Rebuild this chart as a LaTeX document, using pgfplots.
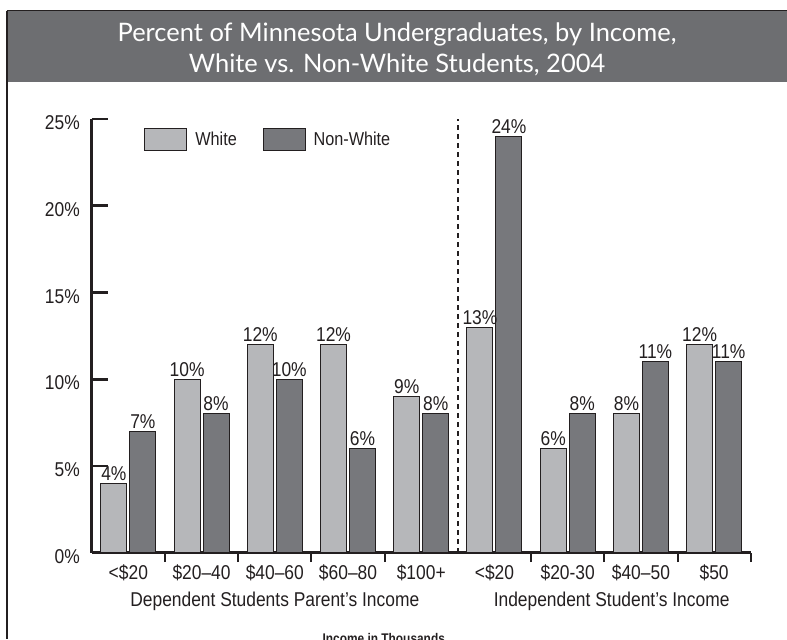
\documentclass[border=0pt]{standalone}
\usepackage{fontspec}
\setmainfont{Liberation Sans}[FakeStretch=0.87]
\newfontfamily\titlefont{Lato}
\newfontfamily\notefont{Liberation Sans}[FakeStretch=0.85]
\usepackage{pgfplots}
\pgfplotsset{compat=1.18}

\definecolor{banner}{HTML}{6D6E71}
\definecolor{light}{HTML}{B6B7BA}
\definecolor{dark}{HTML}{77787C}
\definecolor{ink}{HTML}{231F20}

\begin{document}
\begin{tikzpicture}
% frame and banner, 1px of the reference = 0.75pt
\useasboundingbox (0,0) rectangle (590.25pt,-479.25pt);
\fill[banner] (5pt,-8pt) rectangle (590.25pt,-61.3pt);
\draw[ink,line width=0.75pt] (5pt,-8pt) -- (590.25pt,-8pt);
\draw[ink,line width=1.5pt] (5.5pt,-8pt) -- (5.5pt,-479.25pt);
\node[white,font=\titlefont\fontsize{19.1}{23}\selectfont] at (297.75pt,-25.5pt) {Percent of Minnesota Undergraduates, by Income,};
\node[white,font=\titlefont\fontsize{19.1}{23}\selectfont] at (297.75pt,-48.75pt) {White vs. Non-White Students, 2004};

\begin{axis}[
    at={(68.8pt,-414.5pt)}, anchor=south west,
    scale only axis, width=494.25pt, height=325.3pt,
    xmin=-0.5, xmax=8.5, ymin=0, ymax=25,
    clip=false,
    axis x line*=bottom, axis y line*=left,
    axis line style={ink,line width=2pt},
    tick align=inside,
    ybar=2.25pt, bar width=19.5pt,
    /pgf/number format/assume math mode=true,
    font=\fontsize{15}{17}\selectfont,
    tick label style={font=\fontsize{15}{17}\selectfont},
    xtick={0,...,8},
    xticklabels={<\$20,\$20--40,\$40--60,\$60--80,\$100+,<\$20,\$20-30,\$40--50,\$50},
    every major x tick/.append style={draw=none},
    minor xtick={0.5,1.5,2.5,3.5,5.5,6.5,7.5,8.5},
    every minor x tick/.append style={ink,line width=1.5pt},
    minor tick length=7pt,
    ytick={0,5,10,15,20,25},
    yticklabels={0\%,5\%,10\%,15\%,20\%,25\%},
    major tick length=12pt,
    every major y tick/.append style={ink,line width=2pt},
    xticklabel style={anchor=base,inner sep=0pt,yshift=-8.25pt,text=ink},
    yticklabel style={anchor=base east,inner sep=0pt,xshift=-8.8pt,yshift=-8pt,text=ink},
    nodes near coords={\pgfmathprintnumber{\pgfplotspointmeta}\%},
    nodes near coords style={font=\fontsize{15}{17}\selectfont,anchor=base,inner sep=0pt,yshift=2.25pt,text=ink},
    legend image code/.code={\draw[#1] (0pt,-8.25pt) rectangle (31.5pt,8.25pt);},
    legend style={at={(0.0794,0.98)}, anchor=north west, draw=none, fill=none,
        inner sep=0pt, font=\fontsize{14}{16}\selectfont,
        nodes={inner sep=0pt,text=ink},
        /tikz/every odd column/.append style={column sep=6pt},
        /tikz/every even column/.append style={column sep=19.3pt}},
    legend columns=-1,
]
\addplot[fill=light,draw=ink,line width=0.75pt] coordinates {
    (0,4) (1,10) (2,12) (3,12) (4,9) (5,13) (6,6) (7,8) (8,12)};
\addplot[fill=dark,draw=ink,line width=0.75pt] coordinates {
    (0,7) (1,8) (2,10) (3,6) (4,8) (5,24) (6,8) (7,11) (8,11)};
\legend{White,Non-White}

\draw[ink,line width=1.5pt,dash pattern=on 3.75pt off 3pt] (axis cs:4.5,0) -- (axis cs:4.5,25);
\node[anchor=base,text=ink] at ([yshift=-40.1pt]axis cs:2,0) {Dependent Students Parent’s Income};
\node[anchor=base,text=ink] at ([yshift=-40.1pt]axis cs:6.6,0) {Independent Student’s Income};
\end{axis}

\node[anchor=base,text=ink,font=\notefont\bfseries\fontsize{10.5}{12}\selectfont] at (287.8pt,-482.25pt) {Income in Thousands};
\end{tikzpicture}
\end{document}
